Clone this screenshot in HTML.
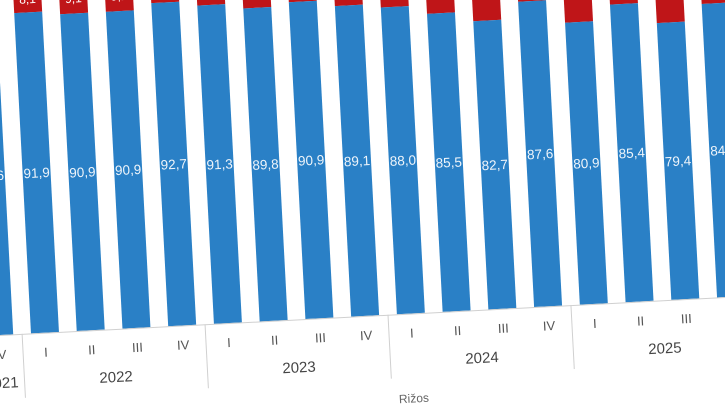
<!DOCTYPE html>
<html><head><meta charset="utf-8"><style>
html,body{margin:0;padding:0;background:#fff;width:725px;height:408px;overflow:hidden}
svg{display:block}
text{font-family:"Liberation Sans",sans-serif}
</style></head><body>
<svg width="725" height="408" viewBox="0 0 725 408" xmlns="http://www.w3.org/2000/svg">
<g transform="rotate(-3 20 334)" id="g">
</g>
</svg>
<script>
var vals=[91.6,91.9,90.9,90.9,92.7,91.3,89.8,90.9,89.1,88.0,85.5,82.7,87.6,80.9,85.4,79.4,84.2];
var g=document.getElementById('g'),ns='http://www.w3.org/2000/svg',H=349,B=334,W=28,s=45.8;
function el(t,a,txt){var e=document.createElementNS(ns,t);for(var k in a)e.setAttribute(k,a[k]);if(txt)e.textContent=txt;g.appendChild(e);return e;}
var q=['I','II','III','IV'];
vals.forEach(function(v,i){
 var c=45+(i-1)*s,bh=v/100*H;
 el('rect',{x:c-W/2,y:B-H,width:W,height:H-bh,fill:'#bf1518'});
 el('rect',{x:c-W/2,y:B-bh,width:W,height:bh,fill:'#2a80c6'});
 el('text',{x:c,y:B-bh/2+5,'text-anchor':'middle','font-size':'13.5',fill:'#eef4fa'},v.toFixed(1).replace('.',','));
 el('text',{x:c,y:B-bh-(H-bh)/2+5,'text-anchor':'middle','font-size':'12',fill:'#fff'},(100-v).toFixed(1).replace('.',','));
 el('text',{x:c,y:358,'text-anchor':'middle','font-size':'13',fill:'#555'},q[(i+3)%4]);
});
el('line',{x1:-20,y1:B+0.5,x2:760,y2:B+0.5,stroke:'#d0d0d0','stroke-width':1});
for(var k=0;k<5;k++){var x=45-s/2+k*4*s;el('line',{x1:x,y1:B,x2:x,y2:398,stroke:'#d0d0d0','stroke-width':1});}
['2022','2023','2024','2025'].forEach(function(y,k){el('text',{x:45+1.5*s+k*4*s,y:387,'text-anchor':'middle','font-size':'15',fill:'#444'},y);});
el('text',{x:16,y:387,'text-anchor':'end','font-size':'15',fill:'#444'},'2021');
el('text',{x:395,y:423,'font-size':'12',fill:'#666'},'Rižos');
</script>
</body></html>
